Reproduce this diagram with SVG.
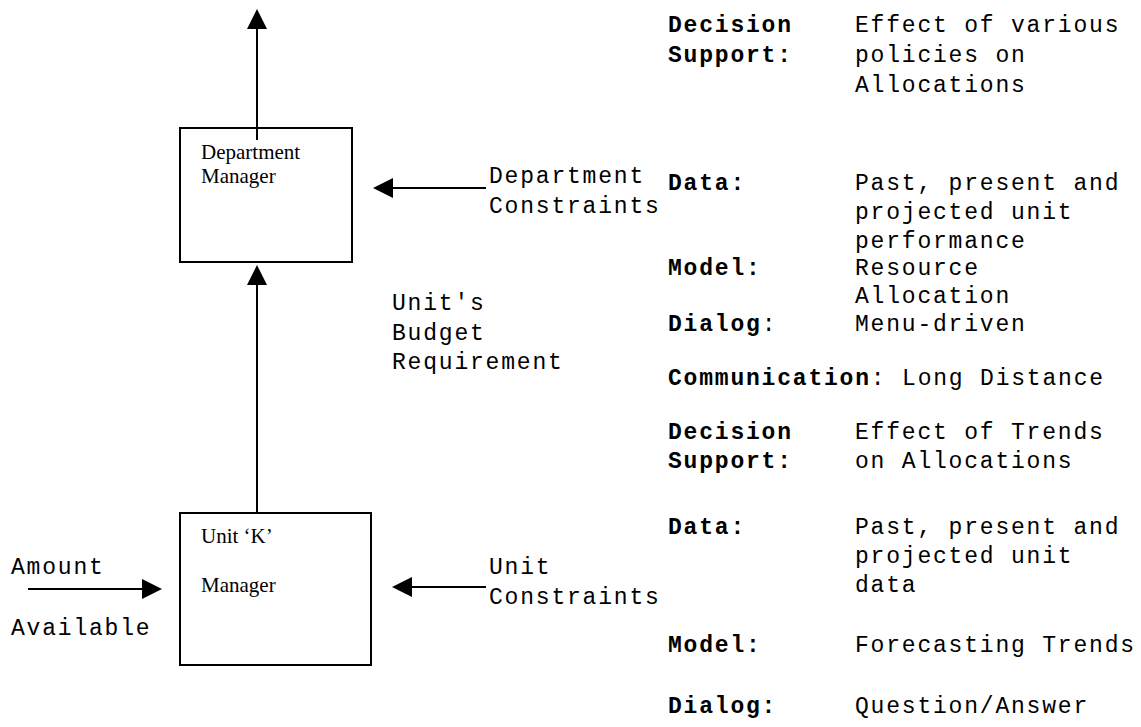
<svg xmlns="http://www.w3.org/2000/svg" width="1141" height="727" viewBox="0 0 1141 727">
  <style>
    .mono { font-family: "Liberation Mono", "Courier New", monospace; font-size: 23px; letter-spacing: 1.8px; fill: #000; }
    .b { font-weight: bold; }
    .serif { font-family: "Liberation Serif", "Times New Roman", serif; font-size: 21px; fill: #000; }
    .box { fill: #fff; stroke: #000; stroke-width: 2; }
    .wire { fill: none; stroke: #000; stroke-width: 2; marker-end: url(#head); }
  </style>
  <defs>
    <marker id="head" markerUnits="userSpaceOnUse" markerWidth="20" markerHeight="20" refX="0" refY="10" orient="auto" overflow="visible">
      <path d="M0,0 L20,10 L0,20 z" fill="#000"/>
    </marker>
  </defs>
  <rect width="1141" height="727" fill="#fff"/>

  <!-- managers -->
  <g id="department-manager">
    <rect class="box" x="180" y="128" width="172" height="134"/>
    <text class="serif" x="201" y="159">Department</text>
    <text class="serif" x="201" y="183">Manager</text>
  </g>
  <g id="unit-manager">
    <rect class="box" x="180" y="513" width="191" height="152"/>
    <text class="serif" x="201" y="543">Unit ‘K’</text>
    <text class="serif" x="201" y="592">Manager</text>
  </g>

  <!-- flows between boxes and inputs -->
  <g id="connectors">
    <line class="wire" x1="257" y1="140" x2="257" y2="29"/>
    <line class="wire" x1="257" y1="513" x2="257" y2="285"/>
    <line class="wire" x1="486" y1="188" x2="393" y2="188"/>
    <line class="wire" x1="486" y1="587" x2="412" y2="587"/>
    <line class="wire" x1="28" y1="589" x2="142" y2="589"/>
  </g>

  <!-- flow labels -->
  <g id="dept-constraints">
    <text class="mono" x="489" y="183">Department</text>
    <text class="mono" x="489" y="213">Constraints</text>
  </g>
  <g id="budget-requirement">
    <text class="mono" x="392" y="310">Unit's</text>
    <text class="mono" x="392" y="340">Budget</text>
    <text class="mono" x="392" y="369">Requirement</text>
  </g>
  <g id="unit-constraints">
    <text class="mono" x="489" y="574">Unit</text>
    <text class="mono" x="489" y="604">Constraints</text>
  </g>
  <g id="amount-available">
    <text class="mono" x="11" y="574">Amount</text>
    <text class="mono" x="11" y="635">Available</text>
  </g>

  <!-- DSS description: department level -->
  <g id="dept-dss">
    <text class="mono b" x="668" y="32">Decision</text>
    <text class="mono b" x="668" y="62">Support:</text>
    <text class="mono" x="855" y="32">Effect of various</text>
    <text class="mono" x="855" y="62">policies on</text>
    <text class="mono" x="855" y="92">Allocations</text>

    <text class="mono b" x="668" y="190">Data:</text>
    <text class="mono" x="855" y="190">Past, present and</text>
    <text class="mono" x="855" y="219">projected unit</text>
    <text class="mono" x="855" y="248">performance</text>

    <text class="mono b" x="668" y="275">Model:</text>
    <text class="mono" x="855" y="275">Resource</text>
    <text class="mono" x="855" y="303">Allocation</text>

    <text class="mono" x="668" y="331"><tspan class="b">Dialog</tspan>:</text>
    <text class="mono" x="855" y="331">Menu-driven</text>

    <text class="mono" x="668" y="385"><tspan class="b">Communication</tspan>: Long Distance</text>
  </g>

  <!-- DSS description: unit level -->
  <g id="unit-dss">
    <text class="mono b" x="668" y="439">Decision</text>
    <text class="mono b" x="668" y="468">Support:</text>
    <text class="mono" x="855" y="439">Effect of Trends</text>
    <text class="mono" x="855" y="468">on Allocations</text>

    <text class="mono b" x="668" y="534">Data:</text>
    <text class="mono" x="855" y="534">Past, present and</text>
    <text class="mono" x="855" y="563">projected unit</text>
    <text class="mono" x="855" y="592">data</text>

    <text class="mono b" x="668" y="652">Model:</text>
    <text class="mono" x="855" y="652">Forecasting Trends</text>

    <text class="mono b" x="668" y="713">Dialog:</text>
    <text class="mono" x="855" y="713">Question/Answer</text>
  </g>
</svg>
